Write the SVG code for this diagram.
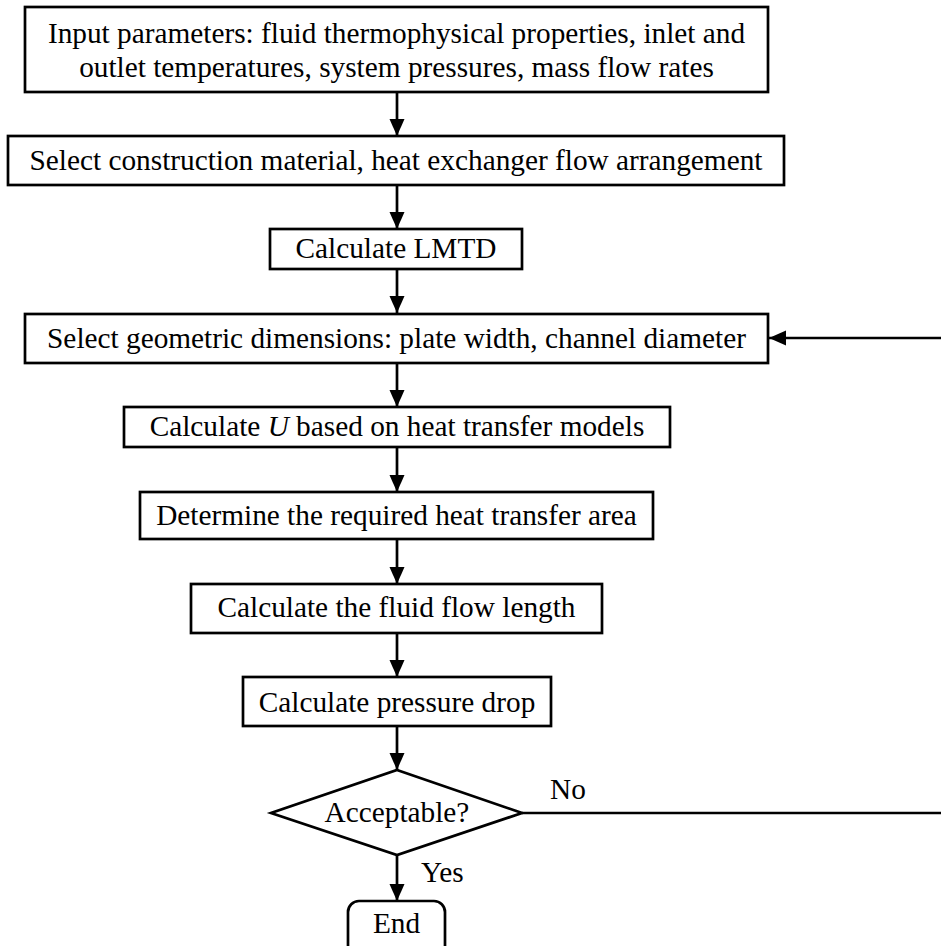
<svg xmlns="http://www.w3.org/2000/svg" width="941" height="946" viewBox="0 0 941 946">
<style>
.box{fill:#fff;stroke:#000;stroke-width:2.7}
.t{font-family:"Liberation Serif","Times New Roman",serif;font-size:29.3px;fill:#000;text-anchor:middle}
.l{font-family:"Liberation Serif","Times New Roman",serif;font-size:29.3px;fill:#000}
.c{fill:none;stroke:#000;stroke-width:2.7}
</style>
<defs>
<marker id="ah" markerUnits="userSpaceOnUse" markerWidth="18" markerHeight="16" refX="17" refY="7.5" orient="auto">
<path d="M0,0 L17,7.5 L0,15 z" fill="#000"/>
</marker>
</defs>
<rect width="941" height="946" fill="#fff"/>
<g id="connectors">
<line class="c" x1="397" y1="92" x2="397" y2="136" marker-end="url(#ah)"/>
<line class="c" x1="397" y1="185" x2="397" y2="229" marker-end="url(#ah)"/>
<line class="c" x1="397" y1="269" x2="397" y2="313" marker-end="url(#ah)"/>
<line class="c" x1="397" y1="363" x2="397" y2="407" marker-end="url(#ah)"/>
<line class="c" x1="397" y1="447" x2="397" y2="492" marker-end="url(#ah)"/>
<line class="c" x1="397" y1="539" x2="397" y2="584" marker-end="url(#ah)"/>
<line class="c" x1="397" y1="633" x2="397" y2="677" marker-end="url(#ah)"/>
<line class="c" x1="397" y1="726" x2="397" y2="770" marker-end="url(#ah)"/>
<line class="c" x1="397" y1="855" x2="397" y2="901" marker-end="url(#ah)"/>
<line class="c" x1="522" y1="813" x2="941" y2="813"/>
<line class="c" x1="941" y1="338" x2="769" y2="338" marker-end="url(#ah)"/>
<text class="l" x="550" y="799">No</text>
<text class="l" x="421" y="882">Yes</text>
</g>
<g id="n1">
<rect class="box" x="25" y="7" width="743" height="85"/>
<text class="t" x="396.5" y="43">Input parameters: fluid thermophysical properties, inlet and</text>
<text class="t" x="396.5" y="77">outlet temperatures, system pressures, mass flow rates</text>
</g>
<g id="n2">
<rect class="box" x="8" y="136" width="776" height="49"/>
<text class="t" x="396" y="170">Select construction material, heat exchanger flow arrangement</text>
</g>
<g id="n3">
<rect class="box" x="270" y="229" width="252" height="40"/>
<text class="t" x="396" y="258">Calculate LMTD</text>
</g>
<g id="n4">
<rect class="box" x="25" y="314" width="743" height="49"/>
<text class="t" x="396.5" y="348">Select geometric dimensions: plate width, channel diameter</text>
</g>
<g id="n5">
<rect class="box" x="124" y="407" width="546" height="40"/>
<text class="t" x="397" y="436">Calculate <tspan font-style="italic">U</tspan> based on heat transfer models</text>
</g>
<g id="n6">
<rect class="box" x="140" y="492" width="513" height="47"/>
<text class="t" x="396.5" y="525">Determine the required heat transfer area</text>
</g>
<g id="n7">
<rect class="box" x="191" y="584" width="411" height="49"/>
<text class="t" x="396.5" y="617">Calculate the fluid flow length</text>
</g>
<g id="n8">
<rect class="box" x="243" y="677" width="308" height="49"/>
<text class="t" x="397" y="712">Calculate pressure drop</text>
</g>
<g id="n9">
<polygon class="box" points="397,770 522,813 397,855 271,813"/>
<text class="t" x="397" y="822">Acceptable?</text>
</g>
<g id="n10">
<rect class="box" x="348" y="901" width="97" height="60" rx="11" ry="11"/>
<text class="t" x="396.5" y="933">End</text>
</g>
</svg>
